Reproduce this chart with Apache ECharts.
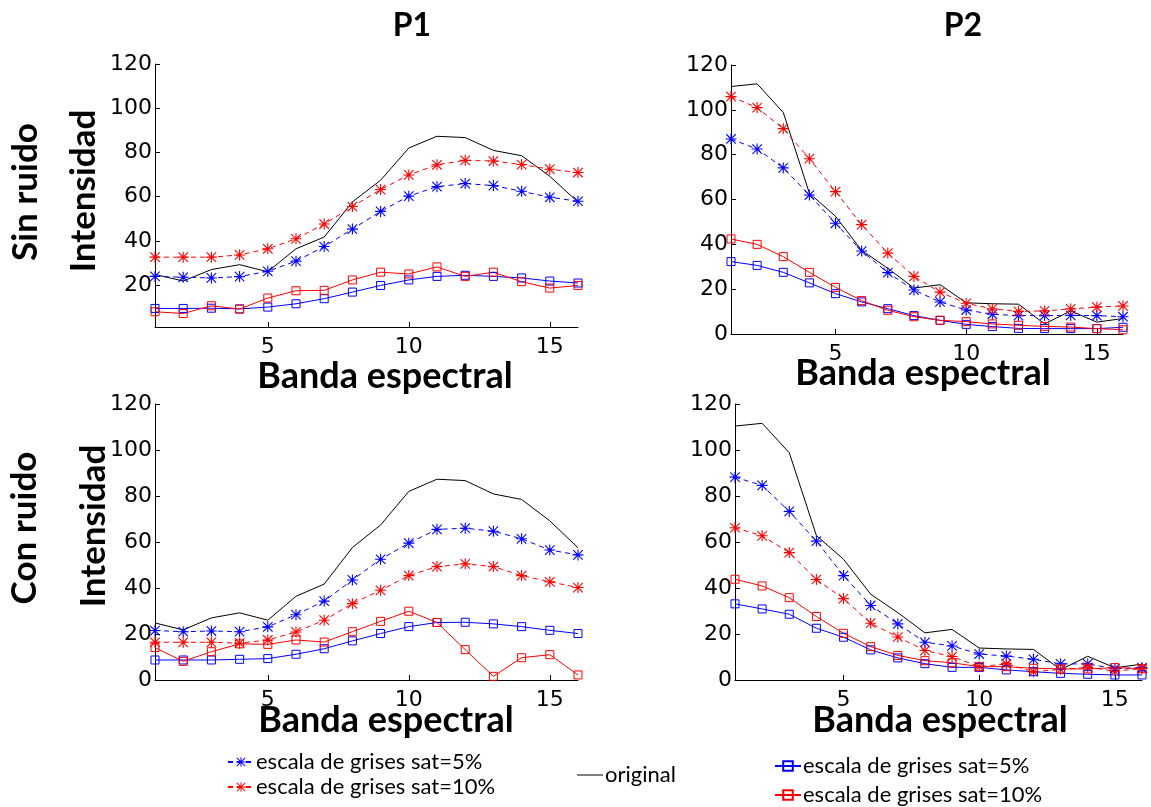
<!DOCTYPE html>
<html>
<head>
<meta charset="utf-8">
<script src="https://cdn.jsdelivr.net/npm/echarts@6/dist/echarts.min.js"></script>
<style>
  html, body { margin: 0; padding: 0; background: #fff; }
  #chart { width: 1151px; height: 807px; }
</style>
</head>
<body>
<div id="chart"></div>
<script>
// bandas espectrales (eje x)
var bands = [1, 2, 3, 4, 5, 6, 7, 8, 9, 10, 11, 12, 13, 14, 15, 16];
var xTicks = [5, 10, 15];
var yTicks = [0, 20, 40, 60, 80, 100, 120];
var yTicksTL = [20, 40, 60, 80, 100, 120];

// P1
var p1Original = [24.8, 21.8, 27, 29.2, 26, 36.4, 41.7, 57.6, 67.4, 82, 87.3, 86.7, 80.9, 78.5, 69.2, 57.5];
var p1SinStar5 = [23.9, 23.5, 23.2, 23.8, 26.2, 30.8, 37.4, 45.3, 53.3, 60.2, 64.5, 65.9, 65, 62.4, 59.7, 57.9];
var p1SinStar10 = [32.6, 32.6, 32.6, 33.6, 36.4, 40.9, 47.6, 55.5, 63.2, 69.8, 74.4, 76.4, 76.1, 74.5, 72.4, 70.9];
var p1SinSq5 = [9.4, 9.4, 9.5, 9.2, 10, 11.5, 13.8, 16.8, 19.8, 22.3, 23.9, 24.4, 23.9, 23.2, 21.8, 20.9];
var p1SinSq10 = [7.9, 7.1, 10.6, 9.1, 14.1, 17.4, 17.6, 22.3, 25.8, 25, 28.2, 23.9, 25.8, 21.5, 18.6, 19.8];
var p1ConStar5 = [21.5, 21, 21.3, 21, 23.1, 28.4, 34.3, 43.5, 52.5, 59.5, 65.5, 66, 64.7, 61.4, 56.5, 54.4];
var p1ConStar10 = [16.4, 16.4, 16.4, 16, 17.4, 20.9, 26, 33.2, 39, 45.4, 49.3, 50.5, 49.3, 45.4, 42.7, 40.2];
var p1ConSq5 = [8.7, 8.7, 8.7, 9, 9.3, 11.2, 13.6, 17, 20.2, 23.2, 25, 25.1, 24.4, 23.2, 21.6, 20.2];
var p1ConSq10 = [14.1, 8.1, 12.3, 15.7, 15.5, 17.4, 16.5, 21, 25.5, 29.9, 25, 13.2, 1.6, 9.7, 11, 2.2];

// P2
var p2Original = [110.4, 111.6, 98.8, 62.8, 52.5, 37.3, 29.3, 20.5, 22, 13.9, 13.5, 13.3, 4.5, 10.3, 5.3, 6.9];
var p2SinStar5 = [87, 82.5, 74.1, 62, 49.4, 37, 27.4, 19.6, 14.3, 10.7, 8.8, 8.2, 8.2, 8.3, 8.2, 7.7];
var p2SinStar10 = [105.9, 101, 91.6, 78.2, 63.5, 48.8, 36.1, 25.7, 18.7, 13.7, 11.2, 10.1, 10.3, 11.2, 12, 12.5];
var p2SinSq5 = [32.3, 30.6, 27.5, 22.8, 18, 14.3, 11.3, 8.2, 6.1, 4.3, 3.3, 2.5, 2.4, 2.4, 2.4, 3];
var p2SinSq10 = [42.4, 40, 34.5, 27.5, 20.8, 14.9, 10.6, 7.7, 6.1, 5.5, 4.5, 3.9, 3.4, 3.1, 2.4, 1.9];
var p2ConStar5 = [88.2, 84.6, 73.3, 60.4, 45.4, 32.4, 24.4, 16.4, 14.8, 11.3, 10.4, 9, 7, 7, 4.9, 5.4];
var p2ConStar10 = [66.2, 62.7, 55.4, 43.7, 35.4, 24.7, 18.7, 12.8, 10.2, 5.8, 7, 3.6, 4.6, 5.5, 3.9, 4.9];
var p2ConSq5 = [33.1, 30.9, 28.6, 22.5, 18.6, 13.1, 9.6, 7.1, 5.5, 5.5, 4.4, 3.6, 2.9, 2.5, 2.2, 2.2];
var p2ConSq10 = [43.8, 40.9, 35.8, 27.6, 20.3, 14.5, 10.7, 8.4, 7.5, 5.8, 5.8, 5.1, 4.8, 4.8, 5.4, 4.9];

var legendNames = {
  star5: 'escala de grises sat=5%',
  star10: 'escala de grises sat=10%',
  orig: 'original',
  sq5: 'escala de grises sat=5%',
  sq10: 'escala de grises sat=10%'
};

var myChart = echarts.init(document.getElementById('chart'));

var STAR = 'path://M9 0L11 0L11 20L9 20Z M0 9L20 9L20 11L0 11Z M2.1 0.7L19.3 17.9L17.9 19.3L0.7 2.1Z M17.9 0.7L19.3 2.1L2.1 19.3L0.7 17.9Z';
var FONT = 'Lato, "Open Sans", sans-serif';

function pairs(vals) {
  return bands.map(function (b, i) { return [b, vals[i]]; });
}

function starSeries(name, vals, color, idx) {
  return {
    name: name, type: 'line', xAxisIndex: idx, yAxisIndex: idx,
    data: pairs(vals), symbol: STAR, symbolSize: 11, showSymbol: true,
    itemStyle: { color: color },
    lineStyle: { color: color, width: 1, type: [5, 4] },
    animation: false, z: 3
  };
}

function squareSeries(name, vals, color, idx) {
  return {
    name: name, type: 'line', xAxisIndex: idx, yAxisIndex: idx,
    data: pairs(vals), symbol: 'rect', symbolSize: 8,
    itemStyle: { color: 'rgba(0,0,0,0)', borderColor: color, borderWidth: 1 },
    lineStyle: { color: color, width: 1 },
    animation: false, z: 3
  };
}

function origSeries(vals, idx) {
  return {
    name: 'orig', type: 'line', xAxisIndex: idx, yAxisIndex: idx,
    data: pairs(vals), symbol: 'none', showSymbol: false,
    itemStyle: { color: '#000' },
    lineStyle: { color: '#000', width: 1 },
    animation: false, z: 2
  };
}

var grids = [
  { left: 155, top: 64, width: 423, height: 263 },
  { left: 731, top: 65, width: 392, height: 269 },
  { left: 155, top: 404, width: 423, height: 276 },
  { left: 735, top: 404, width: 407, height: 276 }
];

var xAxes = [], yAxes = [];
for (var g = 0; g < 4; g++) {
  xAxes.push({
    type: 'value', gridIndex: g, min: 1, max: 16,
    axisLine: { show: true, onZero: false, lineStyle: { color: '#000', width: 1 } },
    axisTick: { show: true, inside: true, length: 5, customValues: xTicks, lineStyle: { color: '#000' } },
    axisLabel: { customValues: xTicks, margin: 9, color: '#000', fontFamily: '"DejaVu Sans"', fontSize: 22 },
    splitLine: { show: false }
  });
  var yt = g === 0 ? yTicksTL : yTicks;
  yAxes.push({
    type: 'value', gridIndex: g, min: g === 0 ? 1 : 0, max: 120,
    axisLine: { show: true, onZero: false, lineStyle: { color: '#000', width: 1 } },
    axisTick: { show: true, inside: true, length: 5, customValues: yt, lineStyle: { color: '#000' } },
    axisLabel: { customValues: yt, margin: 3, color: '#000', fontFamily: '"DejaVu Sans"', fontSize: 22 },
    splitLine: { show: false }
  });
}

var series = [
  origSeries(p1Original, 0),
  starSeries('star5', p1SinStar5, '#0000ff', 0),
  starSeries('star10', p1SinStar10, '#ff0000', 0),
  squareSeries('sq5', p1SinSq5, '#0000ff', 0),
  squareSeries('sq10', p1SinSq10, '#ff0000', 0),

  origSeries(p2Original, 1),
  starSeries('star5', p2SinStar5, '#0000ff', 1),
  starSeries('star10', p2SinStar10, '#ff0000', 1),
  squareSeries('sq5', p2SinSq5, '#0000ff', 1),
  squareSeries('sq10', p2SinSq10, '#ff0000', 1),

  origSeries(p1Original, 2),
  starSeries('star5', p1ConStar5, '#0000ff', 2),
  starSeries('star10', p1ConStar10, '#ff0000', 2),
  squareSeries('sq5', p1ConSq5, '#0000ff', 2),
  squareSeries('sq10', p1ConSq10, '#ff0000', 2),

  origSeries(p2Original, 3),
  starSeries('star5', p2ConStar5, '#0000ff', 3),
  starSeries('star10', p2ConStar10, '#ff0000', 3),
  squareSeries('sq5', p2ConSq5, '#0000ff', 3),
  squareSeries('sq10', p2ConSq10, '#ff0000', 3)
];

function legendBox(names, left, top, gap, w) {
  return {
    data: names, left: left, top: top, orient: 'vertical',
    itemWidth: w, itemHeight: 12, itemGap: gap, padding: 0,
    selectedMode: false,
    formatter: function (n) { return legendNames[n]; },
    textStyle: { fontFamily: FONT, fontSize: 22, color: '#000', padding: [0, 0, 0, -3] }
  };
}

function label(text, x, y, size, rot) {
  return {
    type: 'text', x: x, y: y, rotation: rot || 0,
    style: {
      text: text, x: 0, y: 0, fill: '#000',
      font: 'bold ' + size + 'px ' + FONT,
      align: 'center', verticalAlign: 'middle',
      textAlign: 'center', textVerticalAlign: 'middle'
    }
  };
}

var option = {
  backgroundColor: '#fff',
  animation: false,
  grid: grids,
  xAxis: xAxes,
  yAxis: yAxes,
  legend: [
    legendBox(['star5', 'star10'], 227, 751, 3, 26),
    legendBox([{ name: 'orig', icon: 'path://M0 0L26 0L26 1L0 1Z' }], 577, 764, 5, 26),
    legendBox(['sq5', 'sq10'], 774, 755, 7, 26)
  ],
  graphic: [
    label('P1', 412, 26, 32),
    label('P2', 963, 26, 32),
    label('Sin ruido', 26, 192, 35, Math.PI / 2),
    label('Intensidad', 84, 191, 35, Math.PI / 2),
    label('Con ruido', 25, 528, 35, Math.PI / 2),
    label('Intensidad', 94, 526, 35, Math.PI / 2),
    label('Banda espectral', 385, 376, 36),
    label('Banda espectral', 923, 373, 36),
    label('Banda espectral', 386, 720, 36),
    label('Banda espectral', 940, 720, 36)
  ],
  series: series
};

myChart.setOption(option);
</script>
</body>
</html>
